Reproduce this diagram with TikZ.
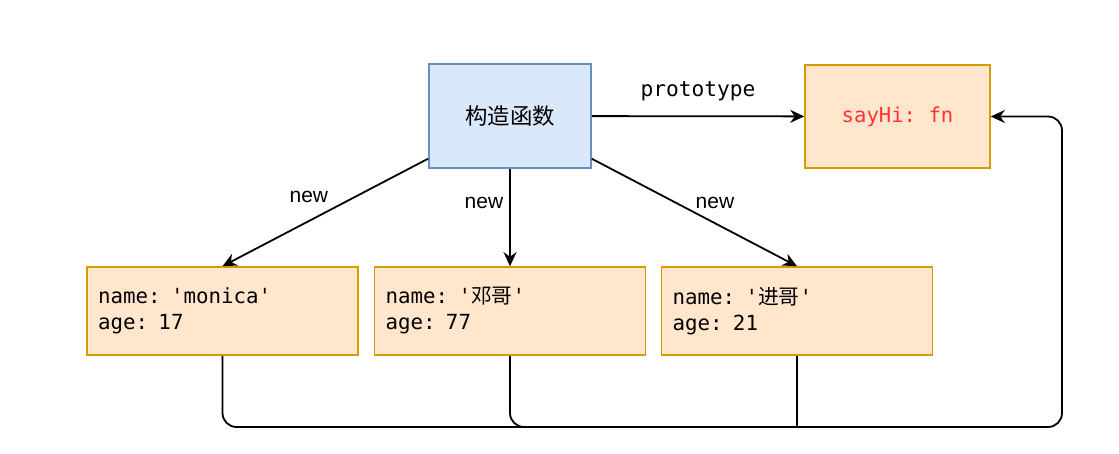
\documentclass[tikz,border=0pt]{standalone}
\usepackage{fontspec}
\setmonofont{DejaVu Sans Mono}
\setsansfont{Liberation Sans}
\newfontfamily\cjk{Noto Sans CJK SC}
\usetikzlibrary{arrows.meta}
\definecolor{bleuFond}{HTML}{DAE8FC}
\definecolor{bleuBord}{HTML}{6C8EBF}
\definecolor{orangeFond}{HTML}{FFE6CC}
\definecolor{orangeBord}{HTML}{D79B00}
\definecolor{rougeTexte}{HTML}{FF3333}
\begin{document}
\begin{tikzpicture}[x=0.5pt,y=-0.5pt]
			\tikzstyle{fleche}=[line width=0.9pt,-{Stealth[length=7pt,width=6.5pt]}]
			\tikzstyle{lien}=[line width=0.9pt,rounded corners=7pt]
			\tikzstyle{constructeur}=[draw=bleuBord,fill=bleuFond,line width=0.8pt,minimum width=81pt,minimum height=52pt,font=\cjk\fontsize{11.2}{13}\selectfont]
			\tikzstyle{prototype}=[draw=orangeBord,fill=orangeFond,line width=0.8pt,minimum width=92.5pt,minimum height=51.5pt,text=rougeTexte,font=\ttfamily\fontsize{10.3}{13}\selectfont]
			\tikzstyle{objet}=[draw=orangeBord,fill=orangeFond,line width=0.8pt,text width=124.5pt,inner xsep=5.5pt,minimum height=44pt,align=left,font=\ttfamily\fontsize{10.4}{13}\selectfont]
			\tikzstyle{etiquette}=[font=\sffamily\fontsize{10.5}{12}\selectfont]
			\tikzstyle{etiquetteMono}=[font=\ttfamily\fontsize{10.6}{12}\selectfont]
			\fill[white] (0,0) rectangle (1119,454);
			\useasboundingbox (0,0) rectangle (1119,454);
			\node[constructeur] (ctor) at (510,116) {构造函数};
			\node[prototype] (proto) at (897.5,116.5) {sayHi: fn};
			\node[objet] (obj1) at (222.5,311) {name: 'monica'\\age: 17};
			\node[objet] (obj2) at (510,311) {name: '{\cjk 邓哥}'\\age: 77};
			\node[objet] (obj3) at (797,311) {name: '{\cjk 进哥}'\\age: 21};
			\coordinate (coinBas) at (1062,427);
			\draw[fleche] (ctor) -- node[etiquetteMono,yshift=12.5pt] {prototype} (proto);
			\draw[fleche] (ctor) -- node[etiquette,pos=0.58,yshift=12pt] {new} (obj1.north);
			\draw[fleche] (ctor) -- node[etiquette,pos=0.35,xshift=-13pt] {new} (obj2.north);
			\draw[fleche] (ctor) -- node[etiquette,pos=0.6,yshift=10pt] {new} (obj3.north);
			\draw[lien,fleche] (obj1.south) |- (coinBas) |- (proto.east);
			\draw[lien] (obj2.south) |- (obj3.south |- coinBas);
			\draw[line width=0.9pt] (obj3.south) -- (obj3.south |- coinBas);
		\end{tikzpicture}
\end{document}
